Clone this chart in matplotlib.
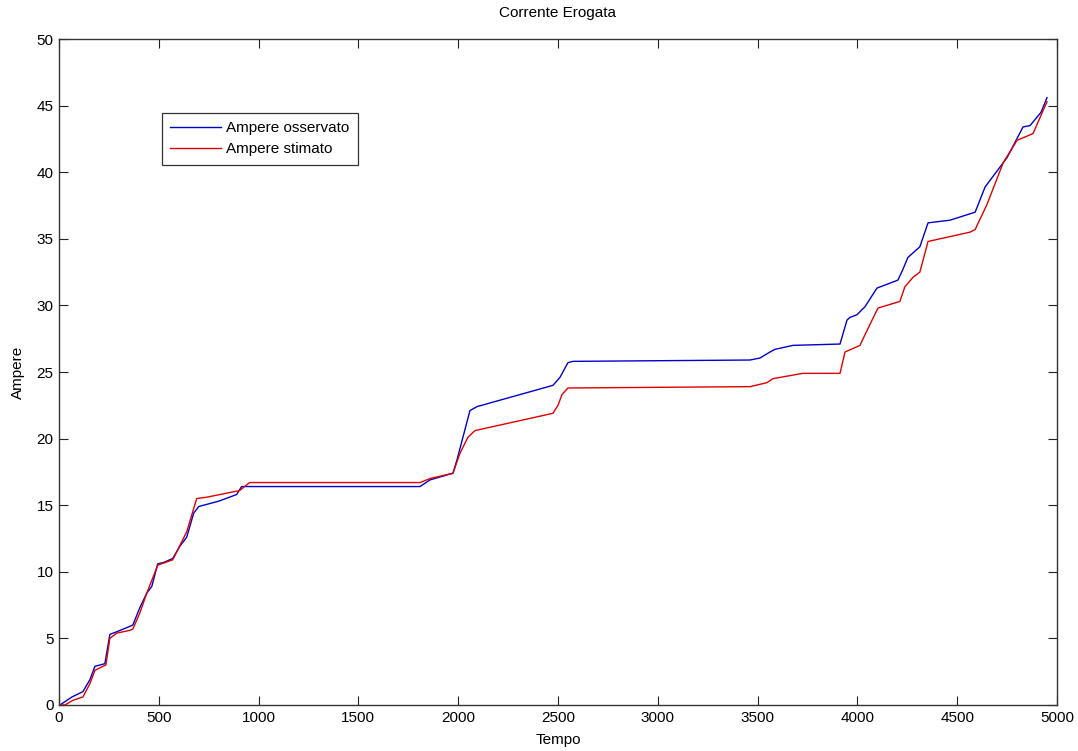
import matplotlib
matplotlib.use('Agg')
import matplotlib.pyplot as plt

# valori (tempo, ampere)
tempo_oss = [0, 5, 65, 120, 155, 180, 205, 230, 255, 290, 355, 370, 405, 440, 465, 495,
             525, 570, 605, 640, 675, 700, 800, 890, 915, 960, 1809, 1859, 1974, 1994,
             2059, 2094, 2475, 2510, 2550, 2575, 3462, 3512, 3562, 3587, 3677, 3913,
             3948, 3963, 3998, 4038, 4098, 4203, 4228, 4253, 4313, 4354, 4464, 4590,
             4640, 4750, 4830, 4865, 4920, 4950]
ampere_oss = [0, 0, 0.6, 1.0, 1.9, 2.9, 3.0, 3.1, 5.3, 5.5, 5.9, 6.0, 7.3, 8.4, 8.9, 10.6,
              10.7, 11.0, 11.9, 12.6, 14.4, 14.9, 15.3, 15.8, 16.4, 16.4, 16.4, 16.9, 17.4, 18.4,
              22.1, 22.4, 24.0, 24.6, 25.7, 25.8, 25.9, 26.05, 26.5, 26.7, 27.0, 27.1,
              28.9, 29.1, 29.3, 29.9, 31.3, 31.9, 32.7, 33.6, 34.4, 36.2, 36.4, 37.0,
              38.9, 41.1, 43.4, 43.5, 44.5, 45.6]

tempo_stim = [0, 30, 70, 120, 155, 180, 220, 235, 255, 290, 355, 370, 405, 440, 495,
              570, 640, 690, 740, 905, 955, 1809, 1859, 1974, 2009, 2049, 2084, 2475,
              2500, 2520, 2550, 3462, 3547, 3577, 3727, 3913, 3938, 4013, 4038, 4103,
              4213, 4238, 4278, 4313, 4354, 4564, 4590, 4650, 4730, 4800, 4880, 4950]
ampere_stim = [0, 0, 0.35, 0.6, 1.6, 2.6, 2.9, 3.0, 5.0, 5.4, 5.6, 5.7, 6.9, 8.4, 10.5,
               10.9, 13.0, 15.5, 15.6, 16.1, 16.7, 16.7, 17.0, 17.4, 18.9, 20.1, 20.6, 21.9,
               22.5, 23.3, 23.8, 23.9, 24.2, 24.5, 24.9, 24.9, 26.5, 27.0, 27.8, 29.8,
               30.3, 31.4, 32.1, 32.5, 34.8, 35.5, 35.7, 37.6, 40.7, 42.4, 42.9, 45.3]

plt.rcParams['font.family'] = ['Liberation Sans', 'DejaVu Sans']
plt.rcParams['font.size'] = 11

fig = plt.figure(figsize=(10.78, 7.51), dpi=100)
ax = fig.add_axes([0.0547, 0.0613, 0.9258, 0.8867])

ax.plot(tempo_oss, ampere_oss, color='#0000cc', lw=1.0, label='Ampere osservato')
ax.plot(tempo_stim, ampere_stim, color='#e00000', lw=1.0, label='Ampere stimato')

ax.set_xlim(0, 5000)
ax.set_ylim(0, 50)
ax.set_xticks(range(0, 5001, 500))
ax.set_yticks(range(0, 51, 5))

ax.tick_params(direction='in', length=6.5, width=0.8, top=True, right=True,
               colors='#222222', labelcolor='black', pad=4)
for s in ax.spines.values():
    s.set_linewidth(1.0)
    s.set_color('#333333')

ax.set_title('Corrente Erogata', fontsize=11, pad=16)
ax.set_xlabel('Tempo', labelpad=6)
ax.set_ylabel('Ampere', labelpad=8)

leg = ax.legend(loc='upper left', bbox_to_anchor=(0.103, 0.889), borderaxespad=0,
                fancybox=False, edgecolor='#333333', framealpha=1,
                handlelength=3.3, handletextpad=0.35, borderpad=0.55, labelspacing=0.45)
leg.get_frame().set_linewidth(0.9)

fig.savefig('out.png', dpi=100)
